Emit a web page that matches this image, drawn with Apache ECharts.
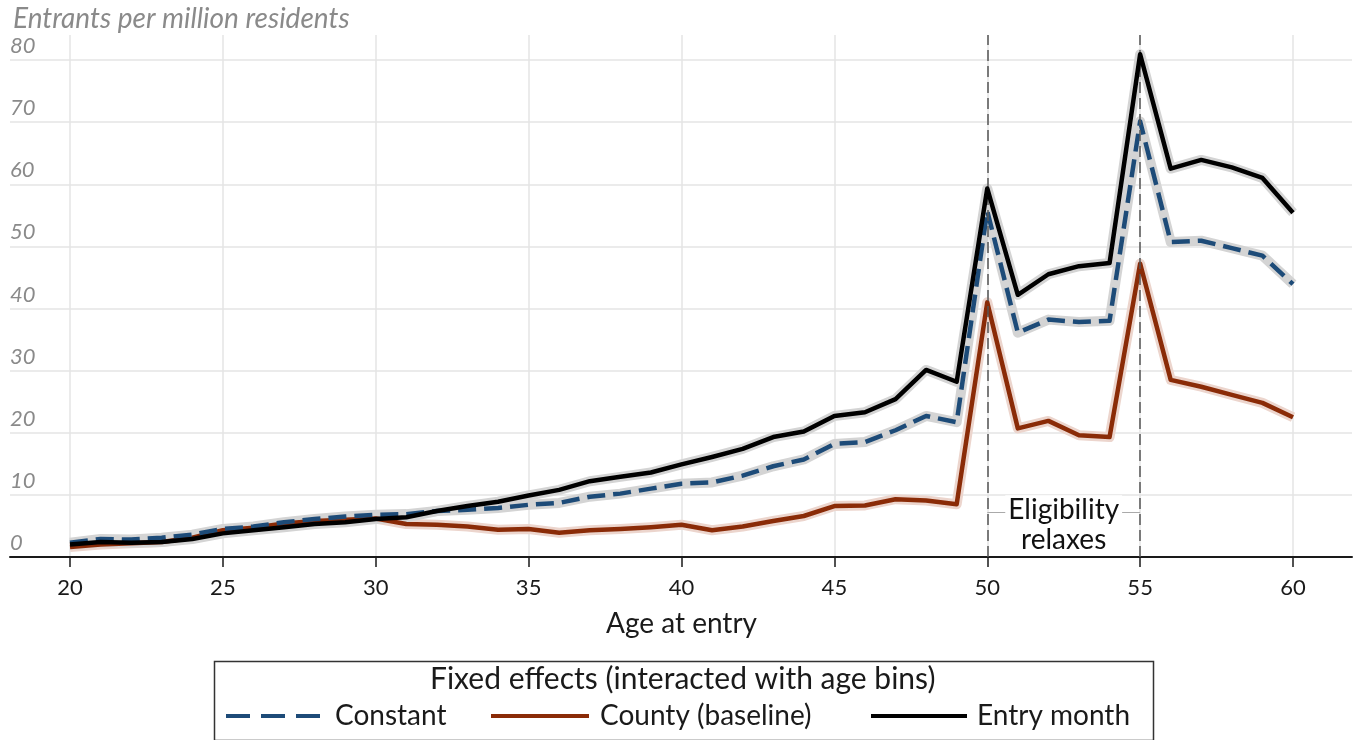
<!DOCTYPE html>
<html>
<head>
<meta charset="utf-8">
<script src="https://cdn.jsdelivr.net/npm/echarts@6/dist/echarts.min.js"></script>
<style>
html,body{margin:0;padding:0;background:#fff;}
#chart{width:1358px;height:740px;}
</style>
</head>
<body>
<div id="chart"></div>
<script>
var ages = [20,21,22,23,24,25,26,27,28,29,30,31,32,33,34,35,36,37,38,39,40,41,42,43,44,45,46,47,48,49,50,51,52,53,54,55,56,57,58,59,60];
var constantFE = [2.3,2.9,2.8,3.1,3.6,4.5,4.9,5.6,6.1,6.5,6.8,6.9,7.4,7.6,7.9,8.4,8.7,9.7,10.2,11.0,11.8,12.0,13.1,14.6,15.7,18.2,18.5,20.4,22.7,21.7,55.7,36.1,38.2,37.8,38.0,70.1,50.7,50.9,49.7,48.5,43.9];
var countyFE = [1.6,2.0,2.2,2.4,3.1,4.3,4.7,5.4,5.8,6.0,6.2,5.3,5.2,4.9,4.4,4.5,3.9,4.3,4.5,4.8,5.2,4.3,4.9,5.8,6.6,8.2,8.3,9.3,9.1,8.5,41.0,20.7,21.9,19.6,19.3,47.2,28.5,27.4,26.1,24.8,22.5];
var entryMonthFE = [2.0,2.4,2.3,2.4,2.9,3.8,4.3,4.8,5.3,5.6,6.1,6.4,7.4,8.2,8.9,9.9,10.8,12.2,12.9,13.6,14.9,16.1,17.4,19.3,20.2,22.7,23.3,25.4,30.1,28.2,59.3,42.2,45.5,46.8,47.3,80.9,62.5,63.9,62.7,61.0,55.4];
var xTicks = [20,25,30,35,40,45,50,55,60];
var yTicks = [0,10,20,30,40,50,60,70,80];
var eligibilityAges = [50,55];
var seriesNames = ['Constant','County (baseline)','Entry month'];

function pairs(vals){ return ages.map(function(a,i){ return [a, vals[i]]; }); }

var FONT = 'Lato';
var chart = echarts.init(document.getElementById('chart'), null, {renderer:'canvas'});

function halo(name, vals, color){
  return {name:name, type:'line', xAxisIndex:1, yAxisIndex:1, data:pairs(vals),
    showSymbol:false, symbol:'none', silent:true, z:2,
    lineStyle:{color:color, width:10, cap:'butt', join:'round'}};
}

function legendFor(name, left, iconW, textPad, dash){
  var ls = {width:4, opacity:1};
  if (dash) ls.type = dash;
  return {data:[name], left:left, top:702, itemWidth:iconW, itemHeight:14, padding:0,
    itemStyle:{opacity:0},
    textStyle:{fontFamily:FONT, fontSize:28, color:'#1a1a1a', padding:[0,0,0,textPad]},
    lineStyle:ls};
}

var option = {
  animation:false,
  backgroundColor:'#fff',
  textStyle:{fontFamily:FONT},
  title:{text:'Entrants per million residents', left:8, top:0,
    textStyle:{fontFamily:FONT, fontStyle:'italic', fontWeight:'normal', fontSize:28, color:'#8a8a8a'}},
  grid:[
    {left:10, right:6, top:60, bottom:183},
    {left:70, right:65, top:35, bottom:183}
  ],
  xAxis:[
    {gridIndex:0, type:'value', min:0, max:1, show:true,
      axisLine:{show:true, lineStyle:{color:'#1a1a1a', width:2}},
      axisTick:{show:false}, axisLabel:{show:false}, splitLine:{show:false}},
    {gridIndex:1, type:'value', min:20, max:60, interval:5,
      name:'Age at entry', nameLocation:'middle', nameGap:53,
      nameTextStyle:{fontFamily:FONT, fontSize:28, color:'#1a1a1a'},
      axisLine:{show:false},
      axisTick:{show:true, length:10, lineStyle:{color:'#1a1a1a', width:1.5}},
      axisLabel:{fontFamily:FONT, fontSize:22, color:'#1a1a1a', margin:20,
        formatter:function(v){ return xTicks.indexOf(v) >= 0 ? String(v) : ''; }},
      splitLine:{show:true, lineStyle:{color:'#e4e4e4', width:1.5}}}
  ],
  yAxis:[
    {gridIndex:0, type:'value', min:0, max:80, interval:10,
      axisLine:{show:false}, axisTick:{show:false},
      axisLabel:{inside:true, margin:0, verticalAlign:'bottom', padding:[0,0,3,0],
        fontFamily:FONT, fontStyle:'italic', fontSize:22, color:'#8a8a8a',
        formatter:function(v){ return yTicks.indexOf(v) >= 0 ? String(v) : ''; }},
      splitLine:{show:true, lineStyle:{color:'#e4e4e4', width:1.5}}},
    {gridIndex:1, type:'value', min:0, max:84, show:false, splitLine:{show:false}}
  ],
  legend:[
    legendFor(seriesNames[0], 224, 95, 9, [24,11]),
    legendFor(seriesNames[1], 489, 98, 6, null),
    legendFor(seriesNames[2], 869, 96, 5, null)
  ],
  graphic:[
    {type:'rect', left:212, top:659, shape:{width:939, height:79},
      style:{fill:'none', stroke:'#333', lineWidth:1.5}, z:1},
    {type:'text', left:430, top:664, style:{text:'Fixed effects (interacted with age bins)',
      font:'30px Lato', fill:'#1a1a1a'}, z:2}
  ],
  series:[
    halo('halo-county', countyFE, '#ecd5cd'),
    halo('halo-constant', constantFE, '#d4d4d4'),
    halo('halo-entry', entryMonthFE, '#d4d4d4'),
    {name:seriesNames[1], type:'line', xAxisIndex:1, yAxisIndex:1, data:pairs(countyFE),
      showSymbol:false, symbol:'none', z:3,
      itemStyle:{color:'#8a2b07'},
      lineStyle:{color:'#8a2b07', width:4.5, join:'round'}},
    {name:seriesNames[0], type:'line', xAxisIndex:1, yAxisIndex:1, data:pairs(constantFE),
      showSymbol:false, symbol:'none', z:4,
      itemStyle:{color:'#1d4b78'},
      lineStyle:{color:'#1d4b78', width:4.5, type:[18,8], join:'round'}},
    {name:seriesNames[2], type:'line', xAxisIndex:1, yAxisIndex:1, data:pairs(entryMonthFE),
      showSymbol:false, symbol:'none', z:5,
      itemStyle:{color:'#000'},
      lineStyle:{color:'#000', width:4.5, join:'round'}},
    {name:'annot', type:'line', xAxisIndex:1, yAxisIndex:1, data:[], z:6, silent:true,
      markLine:{silent:true, symbol:'none', animation:false,
        label:{show:false},
        data:[
          {xAxis:eligibilityAges[0], lineStyle:{color:'#555', width:1.5, type:[11,5]}},
          {xAxis:eligibilityAges[1], lineStyle:{color:'#555', width:1.5, type:[11,5]}},
          [{coord:[eligibilityAges[0],7.25], lineStyle:{color:'#aaa', width:1, type:'solid'}},
           {coord:[eligibilityAges[1],7.25]}]
        ]},
      markPoint:{silent:true, symbol:'rect', symbolSize:0, animation:false,
        data:[{coord:[(eligibilityAges[0]+eligibilityAges[1])/2, 5.1],
          label:{show:true, position:'inside', formatter:'Eligibility\nrelaxes',
            fontFamily:FONT, fontSize:28, lineHeight:30, color:'#111',
            backgroundColor:'#fff', padding:[0,3]}}]}}
  ]
};
chart.setOption(option);
</script>
</body>
</html>
